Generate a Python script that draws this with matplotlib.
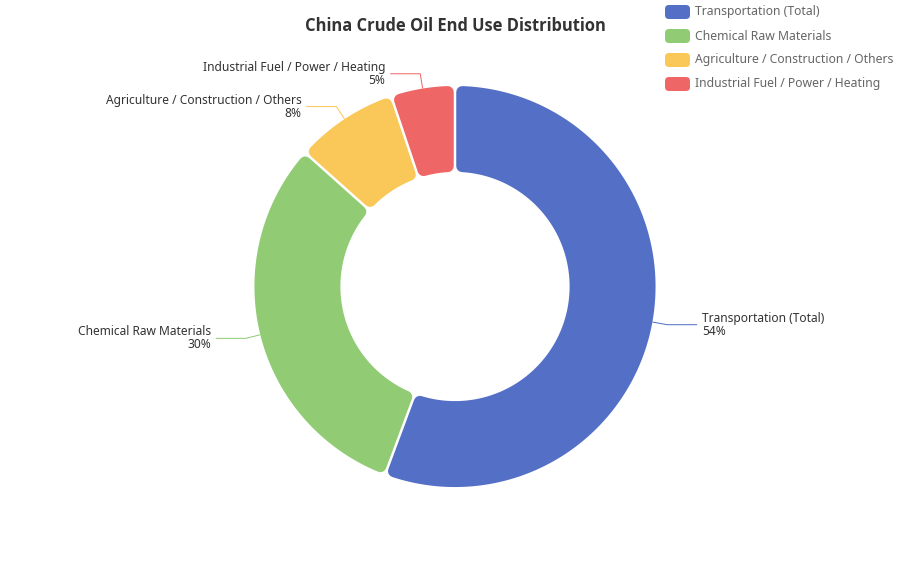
import numpy as np
import matplotlib
matplotlib.use('Agg')
import matplotlib.pyplot as plt
from matplotlib.patches import Polygon, FancyBboxPatch

# ---- data ----
title = "China Crude Oil End Use Distribution"
categories = ["Transportation (Total)", "Chemical Raw Materials",
              "Agriculture / Construction / Others", "Industrial Fuel / Power / Heating"]
values = [54, 30, 8, 5]
colors = ["#5470c6", "#91cc75", "#fac858", "#ee6666"]

# ---- layout ----
W, H, DPI = 910, 573, 100
FONT = ["Noto Sans", "DejaVu Sans"]
plt.rcParams['font.family'] = FONT

def px2pt(p):
    return p * 72.0 / DPI

fig = plt.figure(figsize=(W / DPI, H / DPI), dpi=DPI)
ax = fig.add_axes([0, 0, 1, 1])
ax.set_xlim(0, W)
ax.set_ylim(H, 0)
ax.axis('off')

cx, cy = 455, 286.5
r_out = 0.70 * min(W, H) / 2
r_in = 0.40 * min(W, H) / 2
rc = 6.0        # corner radius (px)
gap = 2.5       # white gap between segments (px)

def pt(r, a):
    a = np.radians(a)
    return cx + r * np.sin(a), cy - r * np.cos(a)

def rounded_sector(a1, a2, color):
    d = rc + gap / 2
    Ro = r_out - rc
    Ri = r_in + rc
    do = np.degrees(np.arcsin(d / Ro))
    di = np.degrees(np.arcsin(d / Ri))
    ao = np.linspace(a1 + do, a2 - do, 200)
    ai = np.linspace(a2 - di, a1 + di, 120)
    xs = list(cx + Ro * np.sin(np.radians(ao))) + list(cx + Ri * np.sin(np.radians(ai)))
    ys = list(cy - Ro * np.cos(np.radians(ao))) + list(cy - Ri * np.cos(np.radians(ai)))
    poly = Polygon(np.column_stack([xs, ys]), closed=True, facecolor=color,
                   edgecolor=color, linewidth=px2pt(2 * rc), joinstyle='round')
    ax.add_patch(poly)

total = float(sum(values))
start = 0.0
for name, v, col in zip(categories, values, colors):
    span = v / total * 360.0
    a1, a2 = start, start + span
    rounded_sector(a1, a2, col)
    mid = (a1 + a2) / 2
    x0, y0 = pt(r_out, mid)
    x1, y1 = pt(r_out + 15, mid)
    right = x1 >= cx
    x2 = x1 + (30 if right else -30)
    ax.plot([x0, x1, x2], [y0, y1, y1], color=col, lw=px2pt(1), solid_capstyle='butt')
    ax.text(x2 + (5 if right else -5), y1, f"{name}\n{v}%",
            ha='left' if right else 'right', va='center', multialignment='left' if right else 'right',
            fontsize=px2pt(12), color='#333333', linespacing=1.0)
    start = a2

# title
ax.text(455, 26, title, ha='center', va='center', fontsize=px2pt(16.5),
        fontweight='bold', color='#333333', family=["Open Sans", "DejaVu Sans"])

# legend
for i, (name, col) in enumerate(zip(categories, colors)):
    y = 12 + 24 * i
    ax.add_patch(FancyBboxPatch((665, y - 7), 25, 14,
                                boxstyle="round,pad=0,rounding_size=4",
                                facecolor=col, edgecolor='none'))
    ax.text(695, y, name, ha='left', va='center', fontsize=px2pt(12.2), color='#666666')

fig.savefig("out.png", dpi=DPI, facecolor='white')
